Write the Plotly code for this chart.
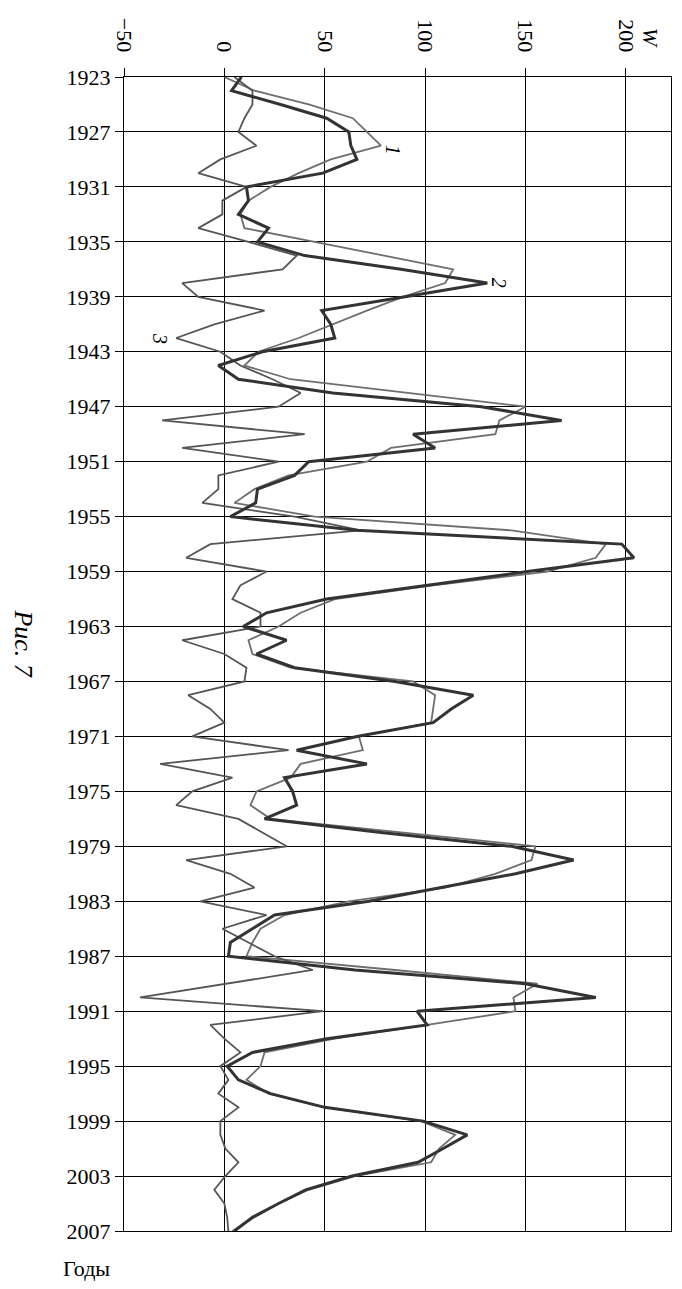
import plotly.graph_objects as go

years = list(range(1923, 2008))

w1 = [0, 15, 42, 64, 71, 78, 53, 37, 23, 12, 8, 10, 45, 80, 114, 110, 89, 71, 54, 37,
      17, 10, 33, 90, 150, 137, 135, 83, 71, 32, 15, 5, 45, 143, 190, 185, 161, 104, 55, 38,
      27, 12, 14, 33, 94, 105, 104, 103, 67, 69, 38, 33, 16, 13, 23, 88, 155, 153, 135, 110,
      62, 30, 18, 14, 11, 85, 156, 144, 145, 101, 55, 20, 18, 11, 22, 50, 98, 115, 107, 103,
      65, 42, 27, 15, 4]

w2 = [8.5, 3.6, 28, 51, 62, 63, 66, 49, 11, 12, 7, 22, 16.5, 40, 88, 131, 90, 48.5, 53, 55,
      19, -3, 7, 54, 128, 168, 94, 105, 42, 35, 16.5, 15.6, 3, 66, 198, 204, 151, 102, 51, 21,
      9.4, 31, 16, 35, 85, 124, 113, 104, 66, 36, 71, 30, 34, 36, 20, 78, 143, 174, 145, 108,
      72, 25, 14, 3, 2, 65, 150, 185, 96, 101, 51, 14, 1.4, 7, 23, 50, 99, 121, 109, 96.5,
      63.6, 40.5, 27, 14, 5]

w3 = [5, 14, 14, 10, 7, 16, -2, -13, 11, -1, -1, -13, 12, 36, 29, -21, -13, 20, -5, -24,
      -2, 8, 24, 38, 27, -31, 40, -21, 27, -3, -3, -11, 35, 68, -7, -19, 21, 8, 4, 18,
      18, -21, 0, 11, 10, -18, -7, 0, -16, 32, -32, 4, -16, -24, 7, 19, 31, -19, 3, 15,
      -12, 21, -1, 12, 25, 44, 0, -42, 49, -7, 0, 8, -2, 2, -3, 7, -2, -2, 0.5, 7,
      0.5, -5, 0, 1.4, 2]

x_ticks = [-50, 0, 50, 100, 150, 200]
x_ticktext = ["\u221250", "0", "50", "100", "150", "200"]
y_ticks = list(range(1923, 2008, 4))
y_ticktext = [str(v) for v in y_ticks]

series_labels = ["1", "2", "3"]
label_pos = [(84, 1928.3), (137, 1938.0), (-32, 1942.0)]

FONT = "Liberation Serif"

# page body has an 8px margin; figure sized so the plot lands where the reference has it
W, H = 674, 1281
ML, MR, MT, MB = 116, 10, 54, 58
plot_w = W - ML - MR
plot_h = H - MT - MB
OX, OY = 8, 8   # body margin offsets in the page


def px_x(px):
    return (px - OX - ML) / plot_w


def px_y(py):
    return (H + OY - MB - py) / plot_h


fig = go.Figure()
fig.add_trace(go.Scatter(x=w1, y=years, mode="lines",
                         line=dict(color="#6e6e6e", width=1.8), name="1"))
fig.add_trace(go.Scatter(x=w3, y=years, mode="lines",
                         line=dict(color="#555555", width=1.8), name="3"))
fig.add_trace(go.Scatter(x=w2, y=years, mode="lines",
                         line=dict(color="#333333", width=3), name="2"))

annotations = []
for lab, (lx, ly) in zip(series_labels, label_pos):
    annotations.append(dict(x=lx, y=ly, xref="x", yref="y", text="<i>" + lab + "</i>",
                            showarrow=False, textangle=90,
                            xanchor="center", yanchor="middle",
                            font=dict(family=FONT, size=20, color="black")))
annotations.append(dict(x=px_x(651), y=px_y(10), xref="paper", yref="paper",
                        text="<i>W</i>", showarrow=False, textangle=90,
                        xanchor="center", yanchor="top",
                        font=dict(family=FONT, size=22, color="black")))
annotations.append(dict(x=px_x(23), y=px_y(636), xref="paper", yref="paper",
                        text="<i>Рис. 7</i>", showarrow=False, textangle=90,
                        xanchor="center", yanchor="middle",
                        font=dict(family=FONT, size=26, color="black")))
annotations.append(dict(x=px_x(61), y=px_y(1269), xref="paper", yref="paper",
                        text="Годы", showarrow=False, xanchor="left", yanchor="middle",
                        font=dict(family=FONT, size=22, color="black")))

fig.update_layout(
    width=W, height=H,
    margin=dict(l=ML, r=MR, t=MT, b=MB),
    paper_bgcolor="white", plot_bgcolor="white",
    showlegend=False,
    font=dict(family=FONT, size=22, color="black"),
    annotations=annotations,
    xaxis=dict(side="top", range=[-50, 222.5], tickvals=x_ticks, ticktext=x_ticktext,
               tickangle=90, ticks="outside", ticklen=8, tickcolor="black",
               ticklabelstandoff=8,
               showgrid=True, gridcolor="black", gridwidth=1,
               showline=True, mirror=True, linecolor="black", linewidth=1.2,
               zeroline=False, tickfont=dict(family=FONT, size=22)),
    yaxis=dict(range=[2007, 1923], tickvals=y_ticks, ticktext=y_ticktext,
               ticks="outside", ticklen=8, tickcolor="black",
               showgrid=True, gridcolor="black", gridwidth=1,
               showline=True, mirror=True, linecolor="black", linewidth=1.2,
               zeroline=False, tickfont=dict(family=FONT, size=22)),
)

fig.write_html("out.html")
